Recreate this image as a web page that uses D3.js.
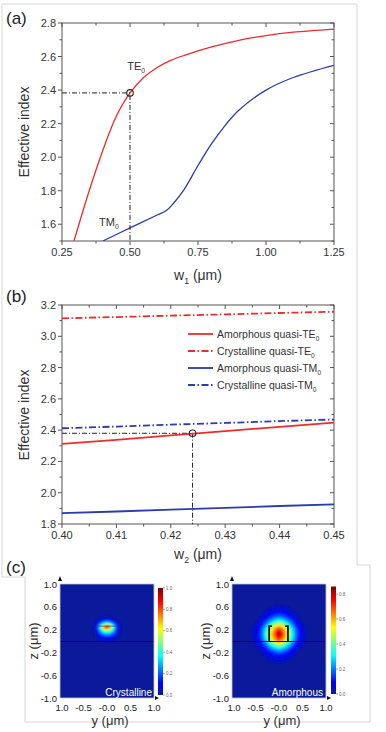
<!DOCTYPE html>
<html><head><meta charset="utf-8">
<script src="https://cdn.jsdelivr.net/npm/d3@7"></script>
<style>html,body{margin:0;padding:0;background:#fff;} svg{display:block;font-family:"Liberation Sans",Arial,sans-serif;}</style>
</head><body><svg id="c" width="386" height="732"></svg>
<script>
// ---------------- DATA ----------------
// Panel (a): effective index vs w1
const w1_TE = [0.294,0.35,0.4,0.45,0.5,0.55,0.6,0.65,0.7,0.8,0.9,1.0,1.1,1.25];
const neff_TE = [1.5,1.8,2.04,2.245,2.383,2.475,2.535,2.577,2.607,2.657,2.697,2.725,2.745,2.764];
const w1_TM = [0.4,0.5,0.6,0.635,0.66,0.7,0.75,0.8,0.85,0.9,1.0,1.1,1.25];
const neff_TM = [1.5,1.578,1.655,1.683,1.725,1.81,1.95,2.08,2.19,2.28,2.4,2.475,2.548];
const aPoint = [0.5, 2.383];
const aXTicks = [0.25,0.5,0.75,1.0,1.25];
const aYTicks = [1.6,1.8,2.0,2.2,2.4,2.6,2.8];
const aAnnotations = [["TE","0",0.49,2.52],["TM","0",0.386,1.589]];

// Panel (b): effective index vs w2
const w2 = [0.40,0.41,0.42,0.43,0.44,0.45];
const amorphTE = [2.312,2.338,2.366,2.394,2.421,2.448];
const crystTE  = [3.115,3.123,3.132,3.140,3.149,3.157];
const amorphTM = [1.869,1.880,1.892,1.903,1.915,1.926];
const crystTM  = [2.412,2.423,2.435,2.446,2.458,2.468];
const bPoint = [0.424, 2.38];
const bXTicks = [0.40,0.41,0.42,0.43,0.44,0.45];
const bYTicks = [1.8,2.0,2.2,2.4,2.6,2.8,3.0,3.2];
const legendLabels = ["Amorphous quasi-TE","Crystalline quasi-TE","Amorphous quasi-TM","Crystalline quasi-TM"];

// Panel (c): mode intensity profiles (normalised |E|^2), grids
const hmXTicks = [-1,-0.5,0,0.5,1];
const hmXLabels = ["1.0","-0.5","-0.0","0.5","1.0"];
const hmYTicks = [1.0,0.6,0.2,-0.2,-0.6,-1.0];
const hmYLabels = ["1.0","0.6","0.2","-0.2","-0.6","-1.0"];
const crystY = [-0.35,-0.3,-0.25,-0.2,-0.15,-0.1,-0.05,0,0.05,0.1,0.15,0.2,0.25,0.3,0.35];
const crystZ = [0.5,0.45,0.4,0.35,0.3,0.25,0.2,0.15,0.1,0.05,0.0,-0.05];
const crystGrid = [
 [0,0,0,0,0,0,0,0,0,0,0,0,0,0,0],
 [0,0,0,0,0,0.01,0.01,0.02,0.01,0.01,0,0,0,0,0],
 [0,0,0,0.01,0.02,0.04,0.06,0.07,0.06,0.04,0.02,0.01,0,0,0],
 [0,0.01,0.02,0.05,0.09,0.14,0.18,0.2,0.18,0.14,0.09,0.05,0.02,0.01,0],
 [0,0.02,0.05,0.12,0.22,0.33,0.41,0.44,0.41,0.33,0.22,0.12,0.05,0.02,0],
 [0,0.03,0.09,0.2,0.38,0.6,0.86,1.0,0.86,0.6,0.38,0.2,0.09,0.03,0],
 [0,0.03,0.08,0.17,0.3,0.45,0.56,0.6,0.56,0.45,0.3,0.17,0.08,0.03,0],
 [0,0.02,0.06,0.13,0.22,0.3,0.36,0.38,0.36,0.3,0.22,0.13,0.06,0.02,0],
 [0,0.01,0.04,0.08,0.13,0.17,0.2,0.21,0.2,0.17,0.13,0.08,0.04,0.01,0],
 [0,0,0.02,0.04,0.06,0.08,0.09,0.1,0.09,0.08,0.06,0.04,0.02,0,0],
 [0,0,0,0.01,0.02,0.03,0.04,0.04,0.04,0.03,0.02,0.01,0,0,0],
 [0,0,0,0,0,0,0,0,0,0,0,0,0,0,0]
];
const amorY = [-0.6,-0.5,-0.4,-0.3,-0.2,-0.1,0,0.1,0.2,0.3,0.4,0.5,0.6];
const amorZ = [0.72,0.62,0.52,0.42,0.32,0.22,0.12,0.02,-0.08,-0.18,-0.28,-0.38,-0.48];
const amorGrid = [
 [0,0,0,0,0,0,0,0,0,0,0,0,0],
 [0,0,0,0.01,0.02,0.03,0.03,0.03,0.02,0.01,0,0,0],
 [0,0.01,0.01,0.03,0.05,0.07,0.08,0.07,0.05,0.03,0.01,0.01,0],
 [0,0.01,0.03,0.07,0.12,0.17,0.2,0.17,0.12,0.07,0.03,0.01,0],
 [0.01,0.03,0.07,0.15,0.26,0.36,0.42,0.36,0.26,0.15,0.07,0.03,0.01],
 [0.02,0.05,0.12,0.26,0.44,0.6,0.72,0.6,0.44,0.26,0.12,0.05,0.02],
 [0.02,0.06,0.14,0.3,0.5,0.68,0.86,0.68,0.5,0.3,0.14,0.06,0.02],
 [0.02,0.05,0.12,0.26,0.44,0.6,0.72,0.6,0.44,0.26,0.12,0.05,0.02],
 [0.01,0.03,0.07,0.15,0.26,0.36,0.42,0.36,0.26,0.15,0.07,0.03,0.01],
 [0,0.01,0.03,0.07,0.12,0.17,0.2,0.17,0.12,0.07,0.03,0.01,0],
 [0,0.01,0.01,0.03,0.05,0.07,0.08,0.07,0.05,0.03,0.01,0.01,0],
 [0,0,0,0.01,0.02,0.03,0.03,0.03,0.02,0.01,0,0,0],
 [0,0,0,0,0,0,0,0,0,0,0,0,0]
];
const crystBarTicks = [0,0.2,0.4,0.6,0.8,1.0];
const amorBarTicks = [0,0.2,0.4,0.6,0.8];
const crystMax = 1.0, amorMax = 0.86;

// ---------------- STYLE ----------------
const RED = "#ee2b2b", BLUE = "#2a3cb0", AX = "#555", TXT = "#333";
const DASHDOT = "7,2.5,1.5,2.5", HELP = "5,2,1,2";
const jetPos = [0,0.11,0.36,0.62,0.87,1];
const jetCol = ["#0a1a9a","#0000ff","#00ffff","#ffff00","#ff0000","#800000"];
const jet = d3.scaleLinear().domain(jetPos).range(jetCol).interpolate(d3.interpolateRgb).clamp(true);

const svg = d3.select("#c");
svg.append("rect").attr("width",386).attr("height",732).attr("fill","#fff");

// composite frame
svg.append("path").attr("d","M2,4H357V565H370V722H25V577H2Z")
  .attr("fill","none").attr("stroke","#d6d6d6").attr("stroke-width",1);

const defs = svg.append("defs");

function subText(g, x, y, main, sub, size, extra, anchor) {
  const t = g.append("text").attr("x",x).attr("y",y).attr("font-size",size).attr("fill",TXT)
    .attr("text-anchor",anchor||"start");
  t.append("tspan").text(main);
  t.append("tspan").attr("font-size",size*0.62).attr("dy",size*0.25).text(sub);
  if (extra) t.append("tspan").attr("dy",-size*0.25).text(extra);
  return t;
}

function axesBox(x, y, xT, yT, xFmt, yFmt, clipId) {
  const [x0,x1] = x.range(), [y0,y1] = y.range();
  const g = svg.append("g");
  g.append("rect").attr("x",x0).attr("y",y1).attr("width",x1-x0).attr("height",y0-y1)
    .attr("fill","none").attr("stroke",AX).attr("stroke-width",1);
  const ln = (a,b,c,d) => g.append("line").attr("x1",a).attr("y1",b).attr("x2",c).attr("y2",d)
    .attr("stroke",AX).attr("stroke-width",1);
  const dx = xT[1]-xT[0], dy = yT[1]-yT[0];
  xT.forEach((v,i) => {
    ln(x(v),y0,x(v),y0+4); ln(x(v),y1,x(v),y1+4);
    if (i < xT.length-1) { const m = x(v+dx/2); ln(m,y0,m,y0+2.5); ln(m,y1,m,y1+2.5); }
    g.append("text").attr("x",x(v)).attr("y",y0+15).attr("text-anchor","middle")
      .attr("font-size",11).attr("fill",TXT).text(xFmt(v));
  });
  yT.forEach((v,i) => {
    ln(x0-4,y(v),x0,y(v)); ln(x1-4,y(v),x1,y(v));
    const m = y(v - dy/2);
    if (m <= y0) { ln(x0-2.5,m,x0,m); ln(x1-2.5,m,x1,m); }
    g.append("text").attr("x",x0-6).attr("y",y(v)+4).attr("text-anchor","end")
      .attr("font-size",11).attr("fill",TXT).text(yFmt(v));
  });
  defs.append("clipPath").attr("id",clipId).append("rect")
    .attr("x",x0).attr("y",y1).attr("width",x1-x0).attr("height",y0-y1);
  return g;
}
function yTitle(cy) {
  svg.append("text").attr("transform",`translate(29,${cy}) rotate(-90)`).attr("text-anchor","middle")
    .attr("font-size",14).attr("fill",TXT).text("Effective index");
}

// ---------------- PANEL (a) ----------------
const xA = d3.scaleLinear([0.25,1.25],[62,334]);
const yA = d3.scaleLinear([1.5,2.8],[241,23]);
axesBox(xA, yA, aXTicks, aYTicks, d3.format(".2f"), d3.format(".1f"), "clipA");
const gA = svg.append("g").attr("clip-path","url(#clipA)");
const lineA = d3.line().x(d=>xA(d[0])).y(d=>yA(d[1])).curve(d3.curveCatmullRom.alpha(0.5));
gA.append("path").attr("d", lineA(d3.zip(w1_TE,neff_TE))).attr("fill","none").attr("stroke",RED).attr("stroke-width",1.3);
gA.append("path").attr("d", lineA(d3.zip(w1_TM,neff_TM))).attr("fill","none").attr("stroke",BLUE).attr("stroke-width",1.3);
gA.append("path").attr("d", `M${xA(0.25)},${yA(aPoint[1])}H${xA(aPoint[0])}V${yA(1.5)}`)
  .attr("fill","none").attr("stroke","#222").attr("stroke-width",1).attr("stroke-dasharray",HELP);
svg.append("circle").attr("cx",xA(aPoint[0])).attr("cy",yA(aPoint[1])).attr("r",3.3)
  .attr("fill","none").attr("stroke","#222").attr("stroke-width",1.1);
aAnnotations.forEach(a => subText(svg, xA(a[2]), yA(a[3]), a[0], a[1], 11));
yTitle(132);
subText(svg, 198, 280, "w", "1", 14, " (μm)", "middle");
svg.append("text").attr("x",6).attr("y",24).attr("font-size",17).attr("fill","#222").text("(a)");

// ---------------- PANEL (b) ----------------
const xB = d3.scaleLinear([0.40,0.45],[62,334]);
const yB = d3.scaleLinear([1.8,3.2],[524,305]);
axesBox(xB, yB, bXTicks, bYTicks, d3.format(".2f"), d3.format(".1f"), "clipB");
const gB = svg.append("g").attr("clip-path","url(#clipB)");
const lineB = d3.line().x(d=>xB(d[0])).y(d=>yB(d[1]));
const bSeries = [[amorphTE,RED,null],[crystTE,RED,DASHDOT],[amorphTM,BLUE,null],[crystTM,BLUE,DASHDOT]];
gB.append("path").attr("d", `M${xB(0.40)},${yB(bPoint[1])}H${xB(bPoint[0])}V${yB(1.8)}`)
  .attr("fill","none").attr("stroke","#222").attr("stroke-width",1).attr("stroke-dasharray",HELP);
bSeries.forEach(s => {
  gB.append("path").attr("d", lineB(d3.zip(w2, s[0]))).attr("fill","none").attr("stroke",s[1])
    .attr("stroke-width",1.8).attr("stroke-dasharray",s[2]);
});
svg.append("circle").attr("cx",xB(bPoint[0])).attr("cy",yB(bPoint[1])).attr("r",3.3)
  .attr("fill","none").attr("stroke","#222").attr("stroke-width",1.1);
legendLabels.forEach((lab,i) => {
  const cy = 334 + 17*i;
  svg.append("line").attr("x1",188).attr("x2",213).attr("y1",cy).attr("y2",cy)
    .attr("stroke",bSeries[i][1]).attr("stroke-width",1.8).attr("stroke-dasharray",bSeries[i][2]);
  subText(svg, 217, cy+4, lab, "0", 10.5);
});
yTitle(415);
subText(svg, 198, 559, "w", "2", 14, " (μm)", "middle");
svg.append("text").attr("x",6).attr("y",302).attr("font-size",17).attr("fill","#222").text("(b)");

// ---------------- PANEL (c) ----------------
svg.append("text").attr("x",6).attr("y",573).attr("font-size",17).attr("fill","#222").text("(c)");
const blur = defs.append("filter").attr("id","soft").attr("x","-10%").attr("y","-10%").attr("width","120%").attr("height","120%");
blur.append("feGaussianBlur").attr("stdDeviation",0.9);

function heatmap(id, x0, x1, yVals, zVals, grid, vmax, barX, barTicks, label, labelX, titleX) {
  const xs = d3.scaleLinear([-1,1],[x0,x1]);
  const ys = d3.scaleLinear([-1,1],[698,584]);
  const g = svg.append("g");
  defs.append("clipPath").attr("id",id).append("rect").attr("x",x0).attr("y",584).attr("width",x1-x0).attr("height",114);
  const inner = g.append("g").attr("clip-path",`url(#${id})`);
  inner.append("rect").attr("x",x0).attr("y",584).attr("width",x1-x0).attr("height",114).attr("fill",jet(0));
  const nx = yVals.length, ny = zVals.length;
  const sy = yVals[1]-yVals[0], sz = zVals[0]-zVals[1];
  const step = vmax/40;
  const cont = d3.contours().size([nx,ny]).thresholds(d3.range(0.03, vmax, step))(grid.flat());
  const proj = d3.geoTransform({point(px,py){ this.stream.point(xs(yVals[0]+(px-0.5)*sy), ys(zVals[0]-(py-0.5)*sz)); }});
  const path = d3.geoPath(proj);
  inner.append("g").attr("filter","url(#soft)").selectAll("path").data(cont).join("path")
    .attr("d", path).attr("fill", d => jet(Math.min(1,(d.value+step/2)/vmax)));
  inner.append("line").attr("x1",x0).attr("x2",x1).attr("y1",ys(-0.01)).attr("y2",ys(-0.01))
    .attr("stroke","#111").attr("stroke-width",1.1);
  g.append("rect").attr("x",x0).attr("y",584).attr("width",x1-x0).attr("height",114)
    .attr("fill","none").attr("stroke","#c4c8dc").attr("stroke-width",0.8);
  g.append("path").attr("d",`M${x0-2},${581}L${x0+2},${581}L${x0},${576}Z`).attr("fill","#111");
  g.append("path").attr("d",`M${x1+1},${696}L${x1+1},${700}L${x1+5},${698}Z`).attr("fill","#111");
  hmYTicks.forEach((v,i) => g.append("text").attr("x",x0-3).attr("y",ys(v)+3.5).attr("text-anchor","end")
    .attr("font-size",9.5).attr("fill","#222").text(hmYLabels[i]));
  hmXTicks.forEach((v,i) => g.append("text").attr("x",xs(v)+(i===0?2:0)).attr("y",711).attr("text-anchor","middle")
    .attr("font-size",9.5).attr("fill","#222").text(hmXLabels[i]));
  g.append("text").attr("x",(x0+x1)/2+3).attr("y",725).attr("text-anchor","middle").attr("font-size",13).attr("fill",TXT).text("y (μm)");
  g.append("text").attr("transform",`translate(${titleX},641) rotate(-90)`).attr("text-anchor","middle")
    .attr("font-size",13).attr("fill",TXT).text("z (μm)");
  g.append("text").attr("x",labelX).attr("y",696).attr("text-anchor","end").attr("font-size",10).attr("fill","#fff").text(label);
  const bs = d3.scaleLinear().domain(id==="hmC" ? [0,1] : [0,0.8]).range(id==="hmC" ? [695,588] : [694,594]);
  const grad = defs.append("linearGradient").attr("id",id+"g").attr("x1",0).attr("y1",1).attr("x2",0).attr("y2",0);
  jetPos.forEach((p,i) => grad.append("stop").attr("offset",p).attr("stop-color",jetCol[i]));
  const top = bs(vmax), bot = bs(0);
  g.append("rect").attr("x",barX).attr("y",top).attr("width",5).attr("height",bot-top).attr("fill",`url(#${id}g)`);
  barTicks.forEach(v => {
    g.append("line").attr("x1",barX+5).attr("x2",barX+7).attr("y1",bs(v)).attr("y2",bs(v)).attr("stroke","#666").attr("stroke-width",0.6);
    g.append("text").attr("x",barX+8).attr("y",bs(v)+1.5).attr("font-size",4.5).attr("fill","#666").text(d3.format(".1f")(v));
  });
  return {xs, ys, g};
}
const hC = heatmap("hmC", 60, 154, crystY, crystZ, crystGrid, crystMax, 158, crystBarTicks, "Crystalline", 152, 38);
const hA = heatmap("hmA", 232, 326, amorY, amorZ, amorGrid, amorMax, 331, amorBarTicks, "Amorphous", 323, 210);

// waveguide outlines
hC.g.append("path").attr("d",`M${hC.xs(-0.25)},${hC.ys(0)}V${hC.ys(0.26)}H${hC.xs(0.23)}V${hC.ys(0)}`)
  .attr("fill","none").attr("stroke","#1c2c78").attr("stroke-width",0.8).attr("opacity",0.8);
hA.g.append("path").attr("d",`M${hA.xs(-0.15)},${hA.ys(0.26)}H${hA.xs(-0.21)}V${hA.ys(0)}`)
  .attr("fill","none").attr("stroke","#151515").attr("stroke-width",1.8);
hA.g.append("path").attr("d",`M${hA.xs(0.13)},${hA.ys(0.26)}H${hA.xs(0.19)}V${hA.ys(0)}`)
  .attr("fill","none").attr("stroke","#151515").attr("stroke-width",1.8);
</script></body></html>
